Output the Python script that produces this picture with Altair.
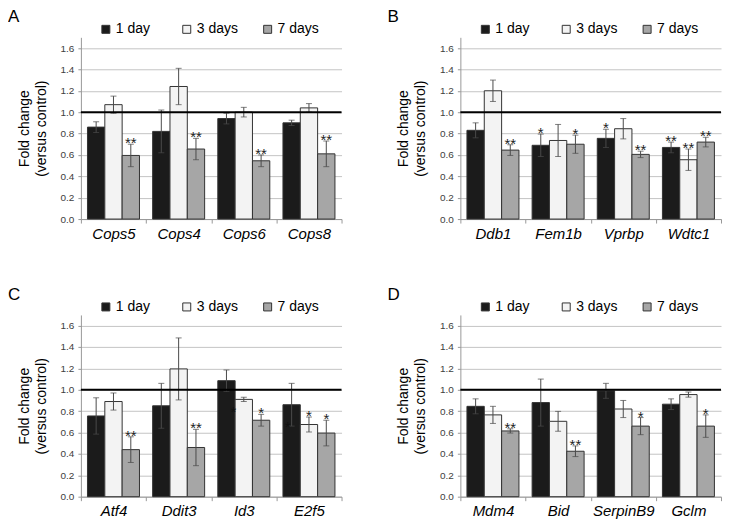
import altair as alt
import pandas as pd

FONT = "Liberation Sans"
series = ["1 day", "3 days", "7 days"]
fills = ["#1b1b1b", "#f3f3f3", "#a6a6a6"]

# Panel A
a_genes = ["Cops5", "Cops4", "Cops6", "Cops8"]
a_mean = [[0.86, 0.82, 0.94, 0.90], [1.07, 1.24, 1.00, 1.04], [0.595, 0.655, 0.545, 0.61]]
a_err = [[0.05, 0.20, 0.05, 0.025], [0.08, 0.17, 0.045, 0.04], [0.105, 0.10, 0.055, 0.12]]
a_star = [["", "", "", ""], ["", "", "", ""], ["**", "**", "**", "**"]]

# Panel B
b_genes = ["Ddb1", "Fem1b", "Vprbp", "Wdtc1"]
b_mean = [[0.83, 0.69, 0.755, 0.67], [1.20, 0.735, 0.845, 0.555], [0.645, 0.70, 0.605, 0.72]]
b_err = [[0.07, 0.105, 0.085, 0.05], [0.10, 0.15, 0.095, 0.10], [0.05, 0.085, 0.03, 0.045]]
b_star = [["", "*", "*", "**"], ["", "", "", "**"], ["**", "*", "**", "**"]]

# Panel C
c_genes = ["Atf4", "Ddit3", "Id3", "E2f5"]
c_mean = [[0.755, 0.85, 1.085, 0.86], [0.89, 1.195, 0.91, 0.675], [0.44, 0.46, 0.715, 0.595]]
c_err = [[0.17, 0.21, 0.10, 0.20], [0.08, 0.29, 0.02, 0.07], [0.12, 0.17, 0.055, 0.12]]
c_star = [["", "", "", ""], ["", "", "", "*"], ["**", "**", "*", "*"]]
# stray asterisks drawn over the 1-day bars in panel C
c_stray_gene = ["Id3", "E2f5"]
c_stray_y = [0.78, 0.64]
c_stray_dx = [7, -4]

# Panel D
d_genes = ["Mdm4", "Bid", "SerpinB9", "Gclm"]
d_mean = [[0.845, 0.88, 0.99, 0.865], [0.765, 0.705, 0.82, 0.955], [0.615, 0.425, 0.66, 0.66]]
d_err = [[0.07, 0.22, 0.07, 0.05], [0.08, 0.093, 0.08, 0.024], [0.02, 0.05, 0.08, 0.105]]
d_star = [["", "", "", ""], ["", "", "", ""], ["**", "**", "*", "*"]]

y_ticks = [0.0, 0.2, 0.4, 0.6, 0.8, 1.0, 1.2, 1.4, 1.6]
ref_line = [1.0]

W, H = 261, 182
ERR = "#4a4a4a"

YSCALE = alt.Scale(domain=[0, 1.7], nice=False)
YAXIS = alt.Axis(values=y_ticks, format=".1f", labelOverlap=False,
                 title=["Fold change", "(versus control)"],
                 titleFontSize=14, titleFontWeight="normal", titleColor="#000",
                 titleLineHeight=17, titlePadding=12,
                 labelFontSize=10, labelColor="#404040", labelPadding=4,
                 tickSize=3, tickColor="#999", domainColor="#999",
                 grid=True, gridColor="#c4c4c4")


def Y(field):
    return alt.Y(field, type="quantitative", scale=YSCALE, axis=YAXIS)


def panel(letter, genes, means, errs, stars, stray=None):
    rows = []
    for si, s in enumerate(series):
        for gi, g in enumerate(genes):
            m = means[si][gi]
            e = errs[si][gi]
            rows.append({"gene": g, "series": s, "value": m, "lo": m - e, "hi": m + e,
                         "star": stars[si][gi]})
    df = pd.DataFrame(rows)

    xaxis = alt.Axis(title=None, labelAngle=0, labelFontStyle="italic",
                     labelFontSize=15, labelColor="#000", labelPadding=3,
                     tickBand="extent", tickSize=4, tickColor="#999",
                     domainColor="#999", grid=False)
    xscale = alt.Scale(paddingInner=0, paddingOuter=0)
    xenc = alt.X("gene:N", sort=genes, scale=xscale, axis=xaxis)
    xoff = alt.XOffset("series:N", sort=series,
                       scale=alt.Scale(paddingInner=0, paddingOuter=0.38))
    base = alt.Chart(df).encode(x=xenc, xOffset=xoff)

    bars = base.mark_bar(stroke="#333", strokeWidth=1).encode(
        y=Y("value"),
        fill=alt.Fill("series:N", sort=series,
                      scale=alt.Scale(domain=series, range=fills),
                      legend=alt.Legend(title=None, orient="none", legendX=18, legendY=-15,
                                        direction="horizontal", columns=3, gridAlign="all",
                                        columnPadding=22, labelFontSize=14, labelOffset=3,
                                        labelColor="#000", symbolType="square",
                                        symbolSize=64, symbolStrokeColor="#333",
                                        symbolStrokeWidth=1, padding=0)),
    )
    rule = base.mark_rule(color=ERR, strokeWidth=1).encode(y=Y("lo"), y2="hi:Q")
    cap_hi = base.mark_tick(color=ERR, size=6, thickness=1).encode(y=Y("hi"))
    cap_lo = base.mark_tick(color=ERR, size=6, thickness=1).encode(y=Y("lo"))
    txt = base.transform_filter("datum.star != ''").mark_text(
        fontSize=15, baseline="alphabetic", dy=4, color="#222").encode(y=Y("hi"), text="star:N")
    one = alt.Chart(pd.DataFrame({"ref": ref_line})).mark_rule(
        color="#000", strokeWidth=2).encode(y=Y("ref"))

    layers = [bars, rule, cap_hi, cap_lo, txt, one]
    if stray:
        sg, sy, sdx = stray
        for g, yv, dx in zip(sg, sy, sdx):
            sdf = pd.DataFrame({"gene": [g], "series": ["1 day"], "y": [yv], "star": ["*"]})
            layers.append(alt.Chart(sdf).mark_text(
                fontSize=15, baseline="alphabetic", dy=4, dx=dx, color="#111").encode(
                x=alt.X("gene:N", sort=genes, scale=xscale, axis=xaxis),
                xOffset=xoff, y=Y("y"), text="star:N"))

    return alt.layer(*layers).properties(
        width=W, height=H,
        title=alt.TitleParams(letter, anchor="start", fontSize=17, fontWeight="normal",
                              color="#000", dx=-9, offset=-4))


pa = panel("A", a_genes, a_mean, a_err, a_star)
pb = panel("B", b_genes, b_mean, b_err, b_star)
pc = panel("C", c_genes, c_mean, c_err, c_star, (c_stray_gene, c_stray_y, c_stray_dx))
pd_ = panel("D", d_genes, d_mean, d_err, d_star)

row1 = alt.hconcat(pa, pb, spacing=45).resolve_legend(fill="independent").resolve_scale(fill="independent")
row2 = alt.hconcat(pc, pd_, spacing=45).resolve_legend(fill="independent").resolve_scale(fill="independent")
chart = alt.vconcat(row1, row2, spacing=45).resolve_legend(fill="independent").resolve_scale(fill="independent")

chart = chart.properties(padding={"left": 0, "top": 0, "right": 0, "bottom": 0}).configure(
    font=FONT).configure_view(stroke=None)

chart.save("out.html", embed_options={"renderer": "svg", "actions": False})
